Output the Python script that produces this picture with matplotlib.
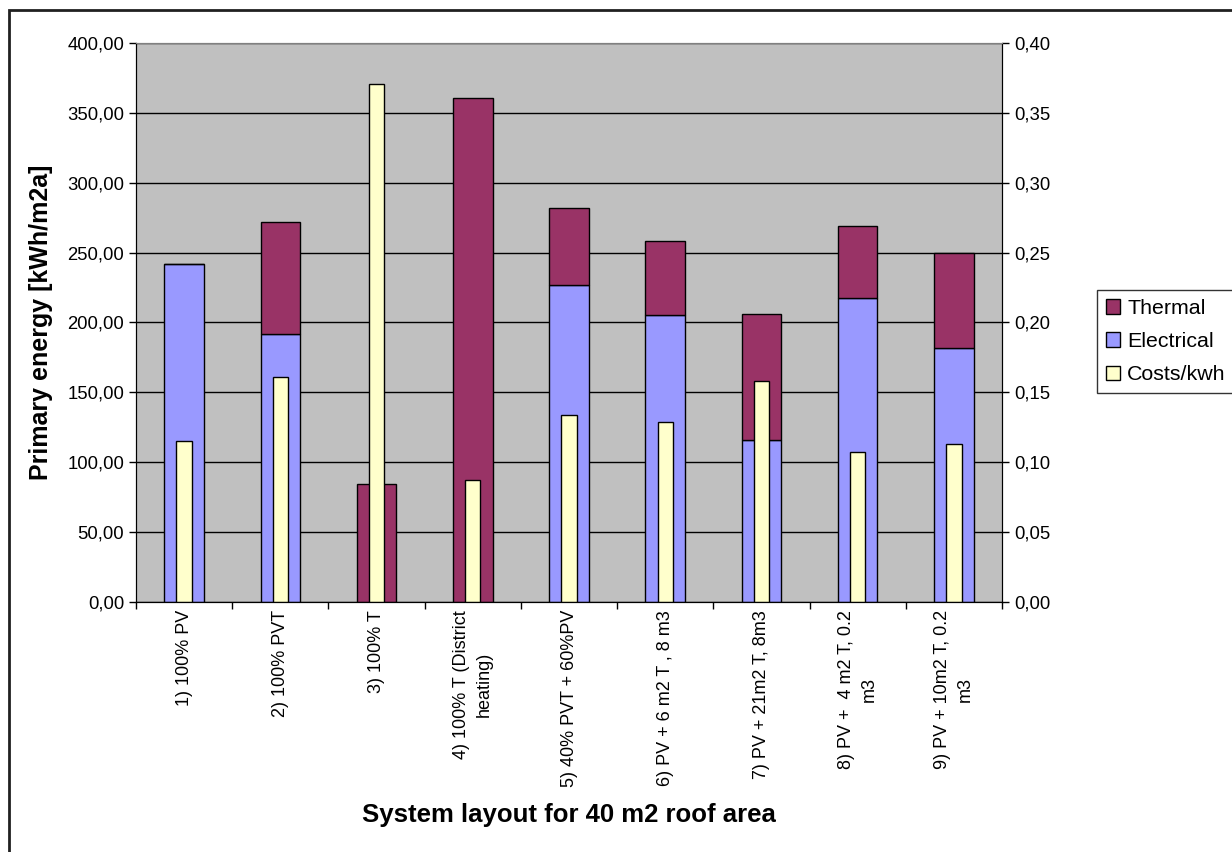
"""Primary energy and cost per kWh for nine system layouts (40 m2 roof)."""
import matplotlib
matplotlib.use("Agg")
import matplotlib.pyplot as plt
from matplotlib.patches import Rectangle
from matplotlib.ticker import FuncFormatter, MultipleLocator, FixedLocator
import numpy as np

plt.rcParams["font.family"] = ["Liberation Sans", "DejaVu Sans"]

layouts = [
    "1) 100% PV",
    "2) 100% PVT",
    "3) 100% T",
    "4) 100% T (District\nheating)",
    "5) 40% PVT + 60%PV",
    "6) PV + 6 m2 T , 8 m3",
    "7) PV + 21m2 T, 8m3",
    "8) PV +  4 m2 T, 0.2\nm3",
    "9) PV + 10m2 T, 0.2\nm3",
]
electrical = [242.0, 191.6, 0.0, 0.0, 226.5, 205.4, 115.7, 217.2, 181.6]
thermal = [0.0, 80.0, 84.5, 360.3, 55.1, 52.6, 90.0, 51.5, 67.8]
costs_kwh = [0.115, 0.161, 0.371, 0.087, 0.134, 0.129, 0.158, 0.107, 0.113]

C_THERMAL = "#993366"
C_ELEC = "#9999FF"
C_COST = "#FFFFCC"


def comma(v, _pos=None):
    return f"{v:.2f}".replace(".", ",")


fig = plt.figure(figsize=(12.32, 8.52), dpi=100)
ax = fig.add_axes([136 / 1232, 1 - 601.7 / 852, (1002 - 136) / 1232, (601.7 - 43) / 852])
ax.set_facecolor("#C0C0C0")
ax.set_axisbelow(True)

x = np.arange(len(layouts))
ax.bar(x, electrical, width=0.41, color=C_ELEC, edgecolor="black", lw=1, label="Electrical")
ax.bar(x, thermal, width=0.41, bottom=electrical, color=C_THERMAL, edgecolor="black",
       lw=1, label="Thermal")

ax.set_xlim(-0.5, len(layouts) - 0.5)
ax.set_ylim(0, 400)
ax.yaxis.set_major_locator(MultipleLocator(50))
ax.yaxis.set_major_formatter(FuncFormatter(comma))
ax.grid(axis="y", color="black", lw=1)

# category labels at bar centres, tick marks at the boundaries
ax.set_xticks(x)
ax.set_xticklabels(layouts, rotation=90, ha="center", va="top", multialignment="center",
                   fontsize=13, linespacing=1.45)
ax.tick_params(axis="x", which="major", length=0, pad=6)
ax.xaxis.set_minor_locator(FixedLocator(np.arange(-0.5, len(layouts), 1.0)))
ax.tick_params(axis="x", which="minor", length=5, width=1)
ax.tick_params(axis="y", labelsize=13.3, length=5, width=1)

for side in ("left", "bottom", "right"):
    ax.spines[side].set_color("black")
ax.spines["top"].set_color("#808080")

ax.set_ylabel("Primary energy [kWh/m2a]", fontsize=18, fontweight="bold", labelpad=10)
ax.set_xlabel("System layout for 40 m2 roof area", fontsize=18.5, fontweight="bold",
              labelpad=11)

# cost per kWh on the secondary axis
ax2 = ax.twinx()
ax2.bar(x, costs_kwh, width=0.16, color=C_COST, edgecolor="black", lw=1, label="Costs/kwh")
ax2.set_ylim(0, 0.4)
ax2.yaxis.set_major_locator(MultipleLocator(0.05))
ax2.yaxis.set_major_formatter(FuncFormatter(comma))
ax2.tick_params(axis="y", labelsize=13.3, length=5, width=1)
ax2.spines["top"].set_color("#808080")
ax2.spines["right"].set_color("black")

handles = [
    Rectangle((0, 0), 1, 1, fc=C_THERMAL, ec="black"),
    Rectangle((0, 0), 1, 1, fc=C_ELEC, ec="black"),
    Rectangle((0, 0), 1, 1, fc=C_COST, ec="black"),
]
leg = fig.legend(handles, ["Thermal", "Electrical", "Costs/kwh"], loc="upper left",
                 bbox_to_anchor=(1097 / 1232, 1 - 290 / 852), fontsize=15.4, frameon=True,
                 fancybox=False, edgecolor="black", handlelength=0.65, handleheight=0.65,
                 handletextpad=0.35, labelspacing=0.66, borderpad=0.42, borderaxespad=0)
leg.get_frame().set_linewidth(1)

# outer chart frame
fig.patches.append(Rectangle((9 / 1232, -0.05), 1.1, 1 - 10 / 852 + 0.05,
                             transform=fig.transFigure, fill=False, ec="#202020", lw=2))

fig.savefig("out.png", dpi=100)
